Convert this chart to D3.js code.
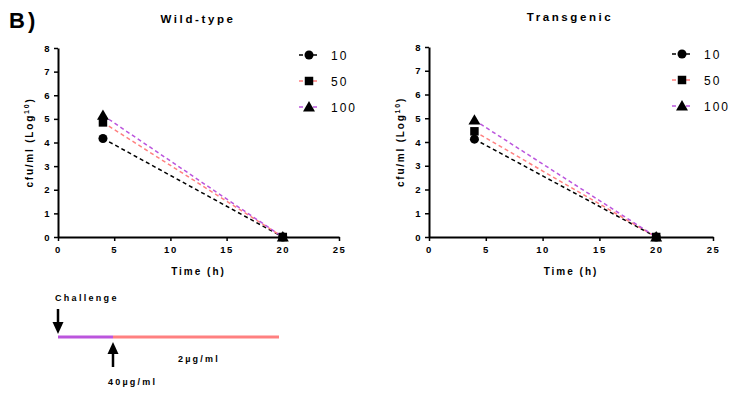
<!DOCTYPE html>
<html>
<head>
<meta charset="utf-8">
<script src="https://cdn.jsdelivr.net/npm/d3@7"></script>
<style>
  body { margin: 0; background: #fff; }
  svg { display: block; font-family: "Liberation Sans", Arial, sans-serif; }
  .tick text { font-weight: bold; font-size: 9.5px; fill: #000; }
</style>
</head>
<body>
<svg id="chart" width="731" height="396"></svg>
<script>
// Doses (µg/ml) of each series
const doses = ["10", "50", "100"];
const seriesColors = ["#000000", "#ff8080", "#bb55dd"];
const seriesShapes = [d3.symbolCircle, d3.symbolSquare, d3.symbolTriangle];
// Sampling times (h)
const times = [4, 20];
// cfu/ml (Log10) per dose at each time
const wildType = [[4.17, 0], [4.85, 0], [5.15, 0]];
const transgenic = [[4.12, 0], [4.45, 0], [4.92, 0]];
const xTicks = [0, 5, 10, 15, 20, 25];
const yTicks = [0, 1, 2, 3, 4, 5, 6, 7, 8];

const svg = d3.select("#chart");

svg.append("text").attr("x", 9).attr("y", 28)
  .attr("font-size", 22).attr("font-weight", "bold").attr("letter-spacing", 3)
  .text("B)");

function panel(opts) {
  const g = svg.append("g");
  const x = d3.scaleLinear().domain([0, 25]).range([opts.x0, opts.x1]);
  const y = d3.scaleLinear().domain([0, 8]).range([opts.y0, opts.y1]);

  g.append("text").attr("x", opts.titleX).attr("y", opts.titleY)
    .attr("text-anchor", "middle").attr("font-size", 11.5).attr("font-weight", "bold")
    .attr("letter-spacing", 2.6).text(opts.title);

  const xa = g.append("g").attr("transform", `translate(0,${opts.y0})`)
    .call(d3.axisBottom(x).tickValues(xTicks).tickSize(4).tickSizeOuter(0).tickPadding(5));
  const ya = g.append("g").attr("transform", `translate(${opts.x0},0)`)
    .call(d3.axisLeft(y).tickValues(yTicks).tickSize(4).tickSizeOuter(0).tickPadding(3));
  [xa, ya].forEach(a => {
    a.select(".domain").attr("stroke-width", 2);
    a.selectAll(".tick line").attr("stroke-width", 1.5);
    a.selectAll(".tick text").attr("letter-spacing", 1.5);
  });

  g.append("text").attr("x", (opts.x0 + opts.x1) / 2).attr("y", opts.y0 + 38)
    .attr("text-anchor", "middle").attr("font-size", 10).attr("font-weight", "bold")
    .attr("letter-spacing", 2).text("Time (h)");

  const yl = g.append("text")
    .attr("transform", `translate(${opts.x0 - 25},${(opts.y0 + opts.y1) / 2}) rotate(-90)`)
    .attr("text-anchor", "middle").attr("font-size", 10).attr("font-weight", "bold")
    .attr("letter-spacing", 1.8);
  yl.append("tspan").text("cfu/ml (Log");
  yl.append("tspan").attr("dy", -4).attr("font-size", 7).text("10");
  yl.append("tspan").attr("dy", 4).text(")");

  const line = d3.line().x((d, i) => x(times[i])).y(d => y(d));
  opts.data.forEach((vals, s) => {
    g.append("path").datum(vals).attr("d", line).attr("fill", "none")
      .attr("stroke", seriesColors[s]).attr("stroke-width", 1.5)
      .attr("stroke-dasharray", "4,3");
  });
  const sizes = [64, 72, 62];
  opts.data.forEach((vals, s) => {
    vals.forEach((v, i) => {
      g.append("path")
        .attr("d", d3.symbol().type(seriesShapes[s]).size(sizes[s])())
        .attr("transform", `translate(${x(times[i])},${y(v) + (s === 2 ? 1 : 0)})`)
        .attr("fill", "#000");
    });
  });

  // legend
  doses.forEach((d, s) => {
    const ly = opts.legY + s * 26;
    g.append("line").attr("x1", opts.legX - 10).attr("x2", opts.legX + 10)
      .attr("y1", ly).attr("y2", ly).attr("stroke", seriesColors[s])
      .attr("stroke-width", 1.5).attr("stroke-dasharray", "4,3");
    g.append("path").attr("d", d3.symbol().type(seriesShapes[s]).size(sizes[s])())
      .attr("transform", `translate(${opts.legX},${ly + (s === 2 ? 1 : 0)})`).attr("fill", "#000");
    g.append("text").attr("x", opts.legX + 22).attr("y", ly + 4.5)
      .attr("font-size", 12).attr("letter-spacing", 2).text(d);
  });
}

panel({ title: "Wild-type", titleX: 198, titleY: 23, data: wildType,
  x0: 58, x1: 339, y0: 237, y1: 48, legX: 309, legY: 55 });
panel({ title: "Transgenic", titleX: 570, titleY: 21, data: transgenic,
  x0: 429, x1: 713, y0: 237, y1: 47, legX: 682, legY: 54 });

// treatment timeline
const tl = svg.append("g");
tl.append("text").attr("x", 55).attr("y", 301).attr("font-size", 9)
  .attr("font-weight", "bold").attr("letter-spacing", 2.3).text("Challenge");
tl.append("line").attr("x1", 58).attr("x2", 113).attr("y1", 337).attr("y2", 337)
  .attr("stroke", "#bb55dd").attr("stroke-width", 3);
tl.append("line").attr("x1", 113).attr("x2", 279).attr("y1", 337).attr("y2", 337)
  .attr("stroke", "#ff8080").attr("stroke-width", 3);
function arrow(xp, tipY, tailY) {
  const dir = tipY > tailY ? 1 : -1;
  tl.append("line").attr("x1", xp).attr("x2", xp).attr("y1", tailY).attr("y2", tipY - dir * 8)
    .attr("stroke", "#000").attr("stroke-width", 2.5);
  tl.append("path").attr("d", `M${xp - 5.5},${tipY - dir * 12}L${xp + 5.5},${tipY - dir * 12}L${xp},${tipY}Z`)
    .attr("fill", "#000");
}
arrow(58, 334, 309);
arrow(113, 342, 367);
tl.append("text").attr("x", 178).attr("y", 362).attr("font-size", 9)
  .attr("font-weight", "bold").attr("letter-spacing", 2.2).text("2µg/ml");
tl.append("text").attr("x", 108).attr("y", 385).attr("font-size", 9)
  .attr("font-weight", "bold").attr("letter-spacing", 2.2).text("40µg/ml");
</script>
</body>
</html>
